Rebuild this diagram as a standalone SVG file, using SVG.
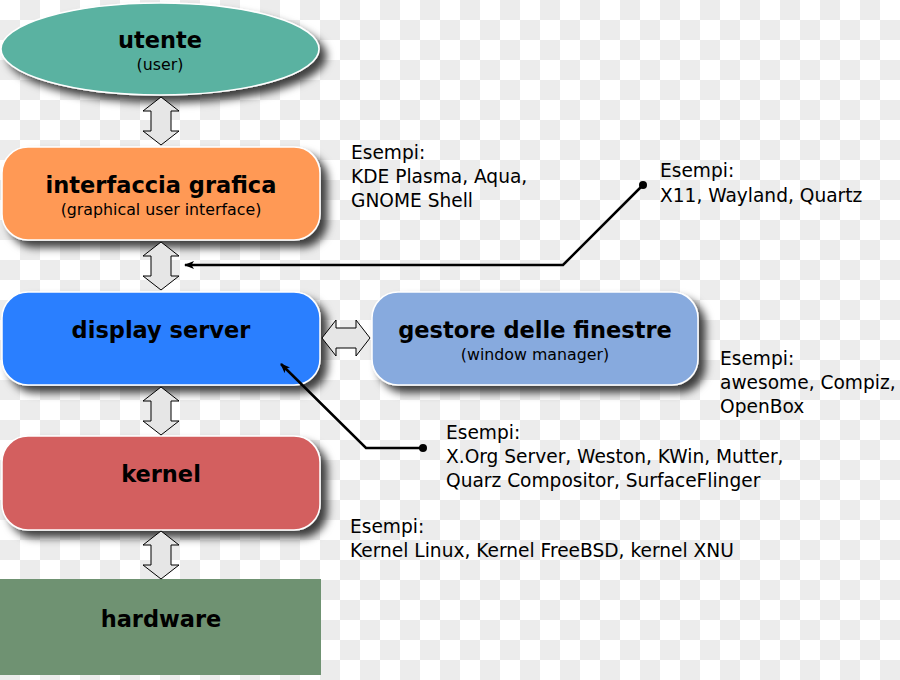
<svg xmlns="http://www.w3.org/2000/svg" xmlns:xlink="http://www.w3.org/1999/xlink" width="900" height="680" viewBox="0 0 900 680">
<style>
.node{stroke:#ffffff;stroke-width:1.5}
.title{font-family:"DejaVu Sans",sans-serif;font-weight:bold;font-size:22.5px;text-anchor:middle;fill:#000}
.sub{font-family:"DejaVu Sans",sans-serif;font-size:15.8px;text-anchor:middle;fill:#000}
.ex{font-family:"DejaVu Sans",sans-serif;font-size:18.6px;fill:#000}
.darr{fill:#e6e6e6;stroke:#000;stroke-width:1}
.conn{fill:none;stroke:#000;stroke-width:2.5}
</style>
<defs>
<pattern id="checker" x="0" y="0" width="40" height="40" patternUnits="userSpaceOnUse">
<rect width="40" height="40" fill="#ffffff"/>
<rect x="20" y="0" width="20" height="20" fill="#ececec"/>
<rect x="0" y="20" width="20" height="20" fill="#ececec"/>
</pattern>
<filter id="shadow" x="-10%" y="-20%" width="130%" height="150%">
<feDropShadow dx="7" dy="7" stdDeviation="4.5" flood-color="#000" flood-opacity="0.75"/>
</filter>
<path id="varrow" class="darr" d="M0,0 L18,14 L10,14 L10,34 L18,34 L0,48 L-18,34 L-10,34 L-10,14 L-18,14 Z"/>
<marker id="head" markerWidth="10" markerHeight="8" refX="9" refY="4" orient="auto" markerUnits="userSpaceOnUse">
<path d="M0,0 L10,4 L0,8 L2.5,4 Z" fill="#000"/>
</marker>
</defs>
<rect width="900" height="680" fill="url(#checker)"/>

<g id="utente">
<ellipse class="node" cx="160" cy="49" rx="159" ry="46" fill="#5ab2a1" filter="url(#shadow)"/>
<text class="title" x="160" y="48">utente</text>
<text class="sub" x="160" y="70">(user)</text>
</g>

<g id="interfaccia-grafica">
<rect class="node" x="2" y="147" width="318" height="93" rx="26" fill="#ff9955" filter="url(#shadow)"/>
<text class="title" x="161" y="193">interfaccia grafica</text>
<text class="sub" x="161" y="215">(graphical user interface)</text>
</g>

<g id="display-server">
<rect class="node" x="2" y="292" width="318" height="93" rx="26" fill="#2a7fff" filter="url(#shadow)"/>
<text class="title" x="161" y="338">display server</text>
</g>

<g id="gestore-finestre">
<rect class="node" x="372" y="292" width="326" height="93" rx="26" fill="#87aade" filter="url(#shadow)"/>
<text class="title" x="535" y="338">gestore delle finestre</text>
<text class="sub" x="535" y="360">(window manager)</text>
</g>

<g id="kernel">
<rect class="node" x="2" y="436" width="318" height="94" rx="26" fill="#d35f5f" filter="url(#shadow)"/>
<text class="title" x="161" y="482">kernel</text>
</g>

<g id="hardware">
<rect x="0" y="579" width="321" height="96" fill="#6f9272"/>
<text class="title" x="161" y="627">hardware</text>
</g>

<g id="connectors">
<use xlink:href="#varrow" transform="translate(161,97)"/>
<use xlink:href="#varrow" transform="translate(161,242)"/>
<use xlink:href="#varrow" transform="translate(161,387)"/>
<use xlink:href="#varrow" transform="translate(161,531)"/>
<use xlink:href="#varrow" transform="translate(322,338) rotate(-90)"/>
<polyline class="conn" points="643,185 563,265 185,265" marker-end="url(#head)"/>
<circle cx="643" cy="185" r="4" fill="#000"/>
<polyline class="conn" points="423,448 366,448 281,364" marker-end="url(#head)"/>
<circle cx="423" cy="448" r="4" fill="#000"/>
</g>

<g id="esempi-gui">
<text class="ex" x="351" y="159">Esempi:</text>
<text class="ex" x="351" y="183">KDE Plasma, Aqua,</text>
<text class="ex" x="351" y="207">GNOME Shell</text>
</g>
<g id="esempi-protocolli">
<text class="ex" x="660" y="177">Esempi:</text>
<text class="ex" x="660" y="202">X11, Wayland, Quartz</text>
</g>
<g id="esempi-wm">
<text class="ex" x="720" y="365">Esempi:</text>
<text class="ex" x="720" y="389">awesome, Compiz,</text>
<text class="ex" x="720" y="413">OpenBox</text>
</g>
<g id="esempi-ds">
<text class="ex" x="446" y="439">Esempi:</text>
<text class="ex" x="446" y="463">X.Org Server, Weston, KWin, Mutter,</text>
<text class="ex" x="446" y="487">Quarz Compositor, SurfaceFlinger</text>
</g>
<g id="esempi-kernel">
<text class="ex" x="350" y="533">Esempi:</text>
<text class="ex" x="350" y="557">Kernel Linux, Kernel FreeBSD, kernel XNU</text>
</g>
</svg>
